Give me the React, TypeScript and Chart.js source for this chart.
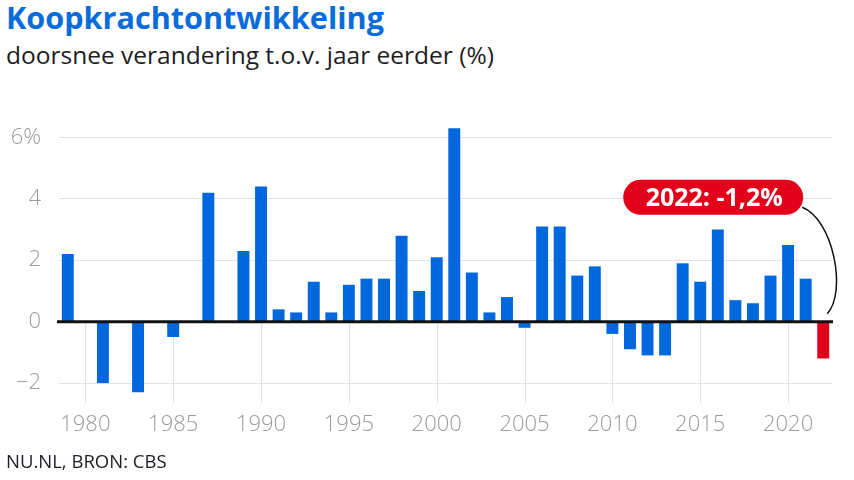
import React, { useEffect, useRef } from "react";
import { Chart, registerables } from "chart.js";

Chart.register(...registerables);

const years: string[] = [
  "1979", "1980", "1981", "1982", "1983", "1984", "1985", "1986", "1987", "1988",
  "1989", "1990", "1991", "1992", "1993", "1994", "1995", "1996", "1997", "1998",
  "1999", "2000", "2001", "2002", "2003", "2004", "2005", "2006", "2007", "2008",
  "2009", "2010", "2011", "2012", "2013", "2014", "2015", "2016", "2017", "2018",
  "2019", "2020", "2021", "2022",
];

const koopkracht: (number | null)[] = [
  2.2, null, -2.0, null, -2.3, null, -0.5, null, 4.2, null,
  2.3, 4.4, 0.4, 0.3, 1.3, 0.3, 1.2, 1.4, 1.4, 2.8,
  1.0, 2.1, 6.3, 1.6, 0.3, 0.8, -0.2, 3.1, 3.1, 1.5,
  1.8, -0.4, -0.9, -1.1, -1.1, 1.9, 1.3, 3.0, 0.7, 0.6,
  1.5, 2.5, 1.4, -1.2,
];

const yTicks: number[] = [-2, 0, 2, 4, 6];
const yTickLabels: string[] = ["\u22122", "0", "2", "4", "6%"];
const xTickYears: string[] = ["1980", "1985", "1990", "1995", "2000", "2005", "2010", "2015", "2020"];
const highlightYear = "2022";
const highlightLabel = "2022: -1,2%";

const BLUE = "#0068DC";
const RED = "#E2001A";
const FONT = "'Open Sans', 'Noto Sans', sans-serif";

export default function App() {
  const ref = useRef<HTMLCanvasElement | null>(null);

  useEffect(() => {
    const canvas = ref.current;
    if (!canvas) return;

    const overlay = {
      id: "overlay",
      beforeDatasetsDraw(chart: any) {
        const { ctx, chartArea, scales } = chart;
        const x = scales.x;
        const y = scales.y;
        const y0 = y.getPixelForValue(0);
        ctx.save();
        ctx.strokeStyle = "#e3e3e3";
        ctx.lineWidth = 1;
        xTickYears.forEach((yr) => {
          const idx = years.indexOf(yr);
          const px = Math.round(x.getPixelForValue(idx)) + 0.5;
          ctx.beginPath();
          ctx.moveTo(px, y0);
          ctx.lineTo(px, chartArea.bottom);
          ctx.stroke();
        });
        ctx.restore();
      },
      afterDatasetsDraw(chart: any) {
        const { ctx, chartArea, scales } = chart;
        const x = scales.x;
        const y = scales.y;
        const y0 = y.getPixelForValue(0);
        ctx.save();
        // zero line
        ctx.strokeStyle = "#111";
        ctx.lineWidth = 3;
        ctx.beginPath();
        ctx.moveTo(chartArea.left - 2, y0);
        ctx.lineTo(chartArea.right + 1, y0);
        ctx.stroke();

        // annotation pill
        const idx = years.indexOf(highlightYear);
        const bx = x.getPixelForValue(idx);
        const cy = y.getPixelForValue(4.05);
        const pw = 180;
        const ph = 35;
        const pr = bx - 20;
        const pl = pr - pw;
        const pt = cy - ph / 2;
        const r = ph / 2;
        ctx.fillStyle = RED;
        ctx.beginPath();
        ctx.moveTo(pl + r, pt);
        ctx.lineTo(pr - r, pt);
        ctx.arc(pr - r, pt + r, r, -Math.PI / 2, Math.PI / 2);
        ctx.lineTo(pl + r, pt + ph);
        ctx.arc(pl + r, pt + r, r, Math.PI / 2, (3 * Math.PI) / 2);
        ctx.closePath();
        ctx.fill();
        ctx.fillStyle = "#fff";
        ctx.font = `700 25px ${FONT}`;
        ctx.textAlign = "center";
        ctx.textBaseline = "alphabetic";
        ctx.fillText(highlightLabel, (pl + pr) / 2 + 1, cy + 9);

        // connector curve
        ctx.strokeStyle = "#111";
        ctx.lineWidth = 1.5;
        ctx.beginPath();
        ctx.moveTo(pr - 1, cy + 10);
        ctx.bezierCurveTo(pr + 30, cy + 22, pr + 44, cy + 95, bx + 4, y0 - 8);
        ctx.stroke();
        ctx.restore();
      },
    };

    const chart = new Chart(canvas, {
      type: "bar",
      data: {
        labels: years,
        datasets: [
          {
            data: koopkracht as any,
            backgroundColor: years.map((yr) => (yr === highlightYear ? RED : BLUE)),
            barPercentage: 0.68,
            categoryPercentage: 1,
            borderWidth: 0,
          },
        ],
      },
      options: {
        animation: false,
        responsive: false,
        maintainAspectRatio: false,
        layout: { padding: { top: 119, right: 22, left: 0, bottom: 0 } },
        plugins: {
          legend: { display: false },
          tooltip: { enabled: false },
          title: { display: false },
        },
        scales: {
          x: {
            type: "category",
            grid: { display: false, drawTicks: false },
            border: { display: false },
            ticks: {
              autoSkip: false,
              maxRotation: 0,
              padding: 9,
              color: "#9b9b9b",
              font: { family: FONT, size: 22, weight: "300" as any },
              callback: (_v: any, i: number) => (xTickYears.includes(years[i]) ? years[i] : ""),
            },
            afterFit: (s: any) => {
              s.height = 77;
            },
          },
          y: {
            min: -2.65,
            max: 6.6,
            grid: {
              color: (c: any) => (c.tick && c.tick.value === 0 ? "rgba(0,0,0,0)" : "#e3e3e3"),
              drawTicks: false,
              lineWidth: 1,
            },
            border: { display: false },
            afterBuildTicks: (s: any) => {
              s.ticks = yTicks.map((v) => ({ value: v }));
            },
            ticks: {
              padding: 18,
              color: "#9b9b9b",
              font: { family: FONT, size: 22, weight: "300" as any },
              callback: (v: any) => {
                const i = yTicks.indexOf(Number(v));
                return i >= 0 ? yTickLabels[i] : "";
              },
            },
            afterFit: (s: any) => {
              s.width = 59;
            },
          },
        },
      },
      plugins: [overlay],
    });

    return () => chart.destroy();
  }, []);

  return (
    <div
      style={{
        position: "fixed",
        left: 0,
        top: 0,
        width: 854,
        height: 480,
        background: "#fff",
        overflow: "hidden",
        fontFamily: FONT,
      }}
    >
      <div
        style={{
          position: "absolute",
          left: 6,
          top: 2,
          fontSize: 30.6,
          lineHeight: 1,
          fontWeight: 700,
          color: "#0A6CDB",
          whiteSpace: "nowrap",
        }}
      >
        Koopkrachtontwikkeling
      </div>
      <div
        style={{
          position: "absolute",
          left: 6,
          top: 43,
          fontSize: 24.5,
          lineHeight: 1,
          color: "#1d1d24",
          whiteSpace: "nowrap",
        }}
      >
        doorsnee verandering t.o.v. jaar eerder (%)
      </div>
      <canvas
        ref={ref}
        width={854}
        height={480}
        style={{ position: "absolute", left: 0, top: 0, width: 854, height: 480 }}
      />
      <div
        style={{
          position: "absolute",
          left: 6,
          top: 452,
          fontSize: 18.5,
          lineHeight: 1,
          color: "#1d1d24",
          whiteSpace: "nowrap",
        }}
      >
        NU.NL, BRON: CBS
      </div>
    </div>
  );
}
